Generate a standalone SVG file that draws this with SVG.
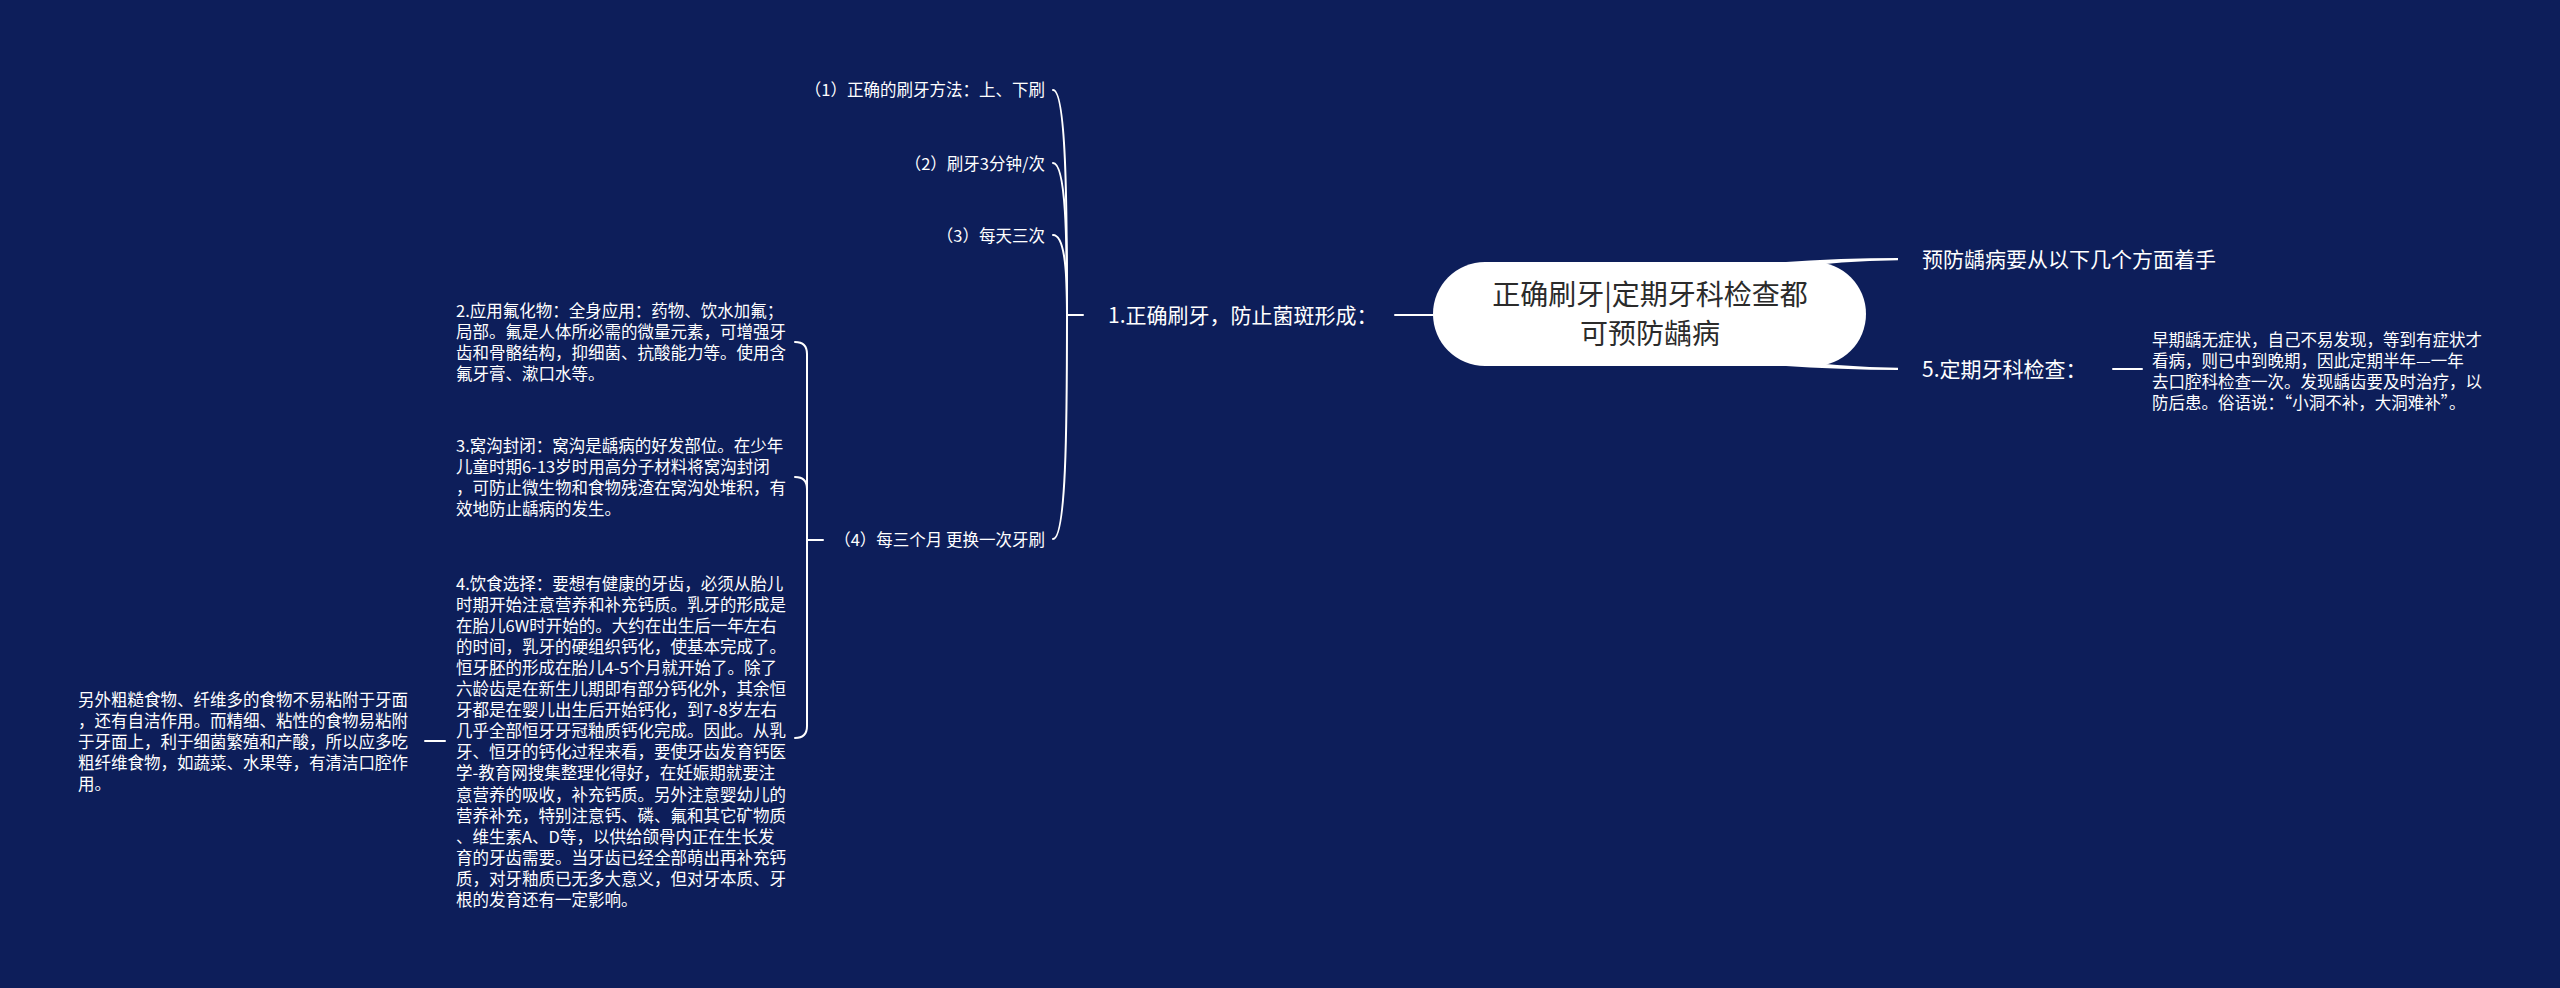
<svg xmlns="http://www.w3.org/2000/svg" width="2560" height="988" viewBox="0 0 2560 988">
<style>
text{font-family:"Noto Sans CJK SC","Noto Sans",sans-serif;fill:#ffffff}
.t0{font-size:28px;fill:#2b2b2b}
.t1{font-size:21px}
.t2{font-size:16.5px}
.end{text-anchor:end}
.c{fill:none;stroke:#ffffff;stroke-width:2;stroke-linecap:round}
</style>
<rect width="2560" height="988" fill="#0d1e5a"/>
<g id="connectors">
<path class="c" d="M1053 90 C1066 90 1067 200 1067 315"/>
<path class="c" d="M1053 163 C1066 163 1067 240 1067 315"/>
<path class="c" d="M1053 235 C1066 235 1067 280 1067 315"/>
<path class="c" d="M1053 539 C1066 539 1067 430 1067 315"/>
<path class="c" d="M1067 315 L1083 315"/>
<path class="c" d="M1395 315 L1436 315"/>
<path d="M1770 263 Q1840 258 1898 258 L1898 260.2 Q1840 261 1790 268 Z" fill="#ffffff"/>
<path d="M1770 365 Q1840 370 1898 370 L1898 367.8 Q1840 367 1790 360 Z" fill="#ffffff"/>
<path class="c" d="M2113 369 L2142 369"/>
<path class="c" d="M795 342 Q807 342 807 354 L807 540"/>
<path class="c" d="M795 477 Q807 477 807 489 L807 540"/>
<path class="c" d="M795 738 Q807 738 807 726 L807 540"/>
<path class="c" d="M807 540 L823 540"/>
<path class="c" d="M425 741 L445 741"/>
</g>
<g id="root">
<rect x="1433" y="262" width="433" height="104" rx="52" fill="#ffffff"/>
<text class="t0" text-anchor="middle" x="1650" y="305">正确刷牙|定期牙科检查都</text>
<text class="t0" text-anchor="middle" x="1650" y="344">可预防龋病</text>
</g>
<g id="n1"><text class="t1" x="1108" y="323">1.正确刷牙，防止菌斑形成：</text></g>
<g id="n1-1"><text class="t2 end" x="1045" y="96">（1）正确的刷牙方法：上、下刷</text></g>
<g id="n1-2"><text class="t2 end" x="1045" y="169.5">（2）刷牙3分钟/次</text></g>
<g id="n1-3"><text class="t2 end" x="1045" y="241.5">（3）每天三次</text></g>
<g id="n1-4"><text class="t2 end" x="1045" y="545.5">（4）每三个月 更换一次牙刷</text></g>
<g id="n2">
<text class="t2" x="456" y="316.5"><tspan x="456">2.应用氟化物：全身应用：药物、饮水加氟；</tspan><tspan x="456" dy="21.1">局部。氟是人体所必需的微量元素，可增强牙</tspan><tspan x="456" dy="21.1">齿和骨骼结构，抑细菌、抗酸能力等。使用含</tspan><tspan x="456" dy="21.1">氟牙膏、漱口水等。</tspan></text>
</g>
<g id="n3">
<text class="t2" x="456" y="451.5"><tspan x="456">3.窝沟封闭：窝沟是龋病的好发部位。在少年</tspan><tspan x="456" dy="21.1">儿童时期6-13岁时用高分子材料将窝沟封闭</tspan><tspan x="456" dy="21.1">，可防止微生物和食物残渣在窝沟处堆积，有</tspan><tspan x="456" dy="21.1">效地防止龋病的发生。</tspan></text>
</g>
<g id="n4">
<text class="t2" x="456" y="589.5"><tspan x="456">4.饮食选择：要想有健康的牙齿，必须从胎儿</tspan><tspan x="456" dy="21.1">时期开始注意营养和补充钙质。乳牙的形成是</tspan><tspan x="456" dy="21.1">在胎儿6W时开始的。大约在出生后一年左右</tspan><tspan x="456" dy="21.1">的时间，乳牙的硬组织钙化，使基本完成了。</tspan><tspan x="456" dy="21.1">恒牙胚的形成在胎儿4-5个月就开始了。除了</tspan><tspan x="456" dy="21.1">六龄齿是在新生儿期即有部分钙化外，其余恒</tspan><tspan x="456" dy="21.1">牙都是在婴儿出生后开始钙化，到7-8岁左右</tspan><tspan x="456" dy="21.1">几乎全部恒牙牙冠釉质钙化完成。因此。从乳</tspan><tspan x="456" dy="21.1">牙、恒牙的钙化过程来看，要使牙齿发育钙医</tspan><tspan x="456" dy="21.1">学-教育网搜集整理化得好，在妊娠期就要注</tspan><tspan x="456" dy="21.1">意营养的吸收，补充钙质。另外注意婴幼儿的</tspan><tspan x="456" dy="21.1">营养补充，特别注意钙、磷、氟和其它矿物质</tspan><tspan x="456" dy="21.1">、维生素A、D等，以供给颌骨内正在生长发</tspan><tspan x="456" dy="21.1">育的牙齿需要。当牙齿已经全部萌出再补充钙</tspan><tspan x="456" dy="21.1">质，对牙釉质已无多大意义，但对牙本质、牙</tspan><tspan x="456" dy="21.1">根的发育还有一定影响。</tspan></text>
</g>
<g id="n4-1">
<text class="t2" x="78" y="706"><tspan x="78">另外粗糙食物、纤维多的食物不易粘附于牙面</tspan><tspan x="78" dy="21.1">，还有自洁作用。而精细、粘性的食物易粘附</tspan><tspan x="78" dy="21.1">于牙面上，利于细菌繁殖和产酸，所以应多吃</tspan><tspan x="78" dy="21.1">粗纤维食物，如蔬菜、水果等，有清洁口腔作</tspan><tspan x="78" dy="21.1">用。</tspan></text>
</g>
<g id="n-prev"><text class="t1" x="1922" y="267">预防龋病要从以下几个方面着手</text></g>
<g id="n5"><text class="t1" x="1922" y="377">5.定期牙科检查：</text></g>
<g id="n5-1">
<text class="t2" x="2152" y="345.5"><tspan x="2152">早期龋无症状，自己不易发现，等到有症状才</tspan><tspan x="2152" dy="21.1">看病，则已中到晚期，因此定期半年—一年</tspan><tspan x="2152" dy="21.1">去口腔科检查一次。发现龋齿要及时治疗，以</tspan><tspan x="2152" dy="21.1">防后患。俗语说：“小洞不补，大洞难补”。</tspan></text>
</g>
</svg>
